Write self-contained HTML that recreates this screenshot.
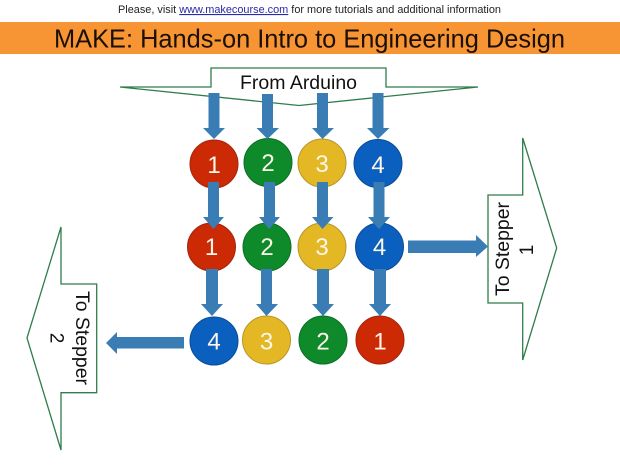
<!DOCTYPE html>
<html lang="en">
<head>
<meta charset="utf-8">
<title>MAKE: Hands-on Intro to Engineering Design</title>
<style>
html,body{margin:0;padding:0;background:#fff;width:620px;height:465px;overflow:hidden}
svg{display:block}
text{font-family:"Liberation Sans",sans-serif}
.n{font-size:24px;fill:#fdf6ea;text-anchor:middle}
.lbl{font-size:19px;fill:#111;text-anchor:middle}
.box{fill:#fff;stroke:#2f7d4a;stroke-width:1.3}
.ar{fill:#3a7db5}
.r{fill:#cc2a05;stroke:#a5230a;stroke-width:1}
.g{fill:#0e8a2a;stroke:#0c6e26;stroke-width:1}
.y{fill:#e3b824;stroke:#b8962a;stroke-width:1}
.b{fill:#0b5fbe;stroke:#0a4c95;stroke-width:1}
</style>
</head>
<body>
<svg width="620" height="465" viewBox="0 0 620 465" xmlns="http://www.w3.org/2000/svg">
<rect width="620" height="465" fill="#fff"/>
<text x="118" y="13" font-size="11" fill="#222" textLength="383" lengthAdjust="spacingAndGlyphs">Please, visit <tspan fill="#2a2aa8" text-decoration="underline">www.makecourse.com</tspan> for more tutorials and additional information</text>
<rect x="0" y="22" width="620" height="32" fill="#f79433"/>
<text x="54" y="47.5" font-size="26" fill="#1a1008" textLength="511" lengthAdjust="spacingAndGlyphs">MAKE: Hands-on Intro to Engineering Design</text>

<polygon class="box" points="211,68 386,68 386,87 478,87 299,105.5 120,87 211,87"/>
<text class="lbl" x="298.5" y="89" textLength="117" lengthAdjust="spacingAndGlyphs">From Arduino</text>

<polygon class="box" points="488,195 522.7,195 522.7,138 556.7,248 522.7,360 522.7,303 488,303"/>
<text class="lbl" transform="translate(509,249) rotate(-90)" textLength="94" lengthAdjust="spacingAndGlyphs">To Stepper</text>
<text class="lbl" transform="translate(533,250) rotate(-90)">1</text>

<polygon class="box" points="96.7,284 61,284 61,227 27,338 61,450 61,392.7 96.7,392.7"/>
<text class="lbl" transform="translate(76,338) rotate(90)" textLength="94" lengthAdjust="spacingAndGlyphs">To Stepper</text>
<text class="lbl" transform="translate(50.5,338) rotate(90)">2</text>

<!-- circles row 1 -->
<circle class="r" cx="214" cy="164" r="24"/>
<circle class="g" cx="268" cy="162.5" r="24"/>
<circle class="y" cx="322" cy="163" r="24"/>
<circle class="b" cx="378" cy="163.5" r="24"/>
<text class="n" x="214" y="173">1</text>
<text class="n" x="268" y="171">2</text>
<text class="n" x="322" y="172">3</text>
<text class="n" x="378" y="173">4</text>

<!-- circles row 2 -->
<circle class="r" cx="211.5" cy="247" r="24"/>
<circle class="g" cx="267" cy="247" r="24"/>
<circle class="y" cx="322" cy="247" r="24"/>
<circle class="b" cx="379.5" cy="247" r="24"/>
<text class="n" x="211.5" y="255">1</text>
<text class="n" x="267" y="255">2</text>
<text class="n" x="322" y="255">3</text>
<text class="n" x="379.5" y="255">4</text>

<!-- circles row 3 -->
<circle class="b" cx="214" cy="341" r="24"/>
<circle class="y" cx="266.5" cy="340" r="24"/>
<circle class="g" cx="323" cy="340" r="24"/>
<circle class="r" cx="380" cy="340" r="24"/>
<text class="n" x="214" y="349.5">4</text>
<text class="n" x="266.5" y="349.5">3</text>
<text class="n" x="323" y="349.5">2</text>
<text class="n" x="380" y="349.5">1</text>

<!-- top arrows -->
<polygon class="ar" points="208.5,93 219.5,93 219.5,128 225,128 214,139 203,128 208.5,128"/>
<polygon class="ar" points="262,94 273,94 273,128 279,128 267.5,139 256.5,128 262,128"/>
<polygon class="ar" points="317,93 328,93 328,128 334,128 322.5,139 312,128 317,128"/>
<polygon class="ar" points="372.5,93 383.5,93 383.5,128 389.5,128 378,139 367,128 372.5,128"/>

<!-- middle arrows -->
<polygon class="ar" points="208,182 219,182 219,217 224,217 213.5,229 203,217 208,217"/>
<polygon class="ar" points="264,182 275,182 275,217 280,217 269,229 259,217 264,217"/>
<polygon class="ar" points="317,182 328,182 328,217 333.5,217 322.5,229 312,217 317,217"/>
<polygon class="ar" points="373.5,182 384.5,182 384.5,217 390,217 379,229 368,217 373.5,217"/>

<!-- lower arrows -->
<polygon class="ar" points="206,269 218,269 218,304 223,304 212,316 201,304 206,304"/>
<polygon class="ar" points="261,269 272,269 272,304 278,304 266.5,316 256,304 261,304"/>
<polygon class="ar" points="317,269 329,269 329,304 334,304 323,316 312,304 317,304"/>
<polygon class="ar" points="374,269 386,269 386,304 391,304 380,316 369,304 374,304"/>

<!-- horizontal arrows -->
<polygon class="ar" points="408,240.5 476,240.5 476,235 488,246.5 476,257 476,253 408,253"/>
<polygon class="ar" points="184,337 117,337 117,332 106,343 117,354 117,348.5 184,348.5"/>
</svg>
</body>
</html>
